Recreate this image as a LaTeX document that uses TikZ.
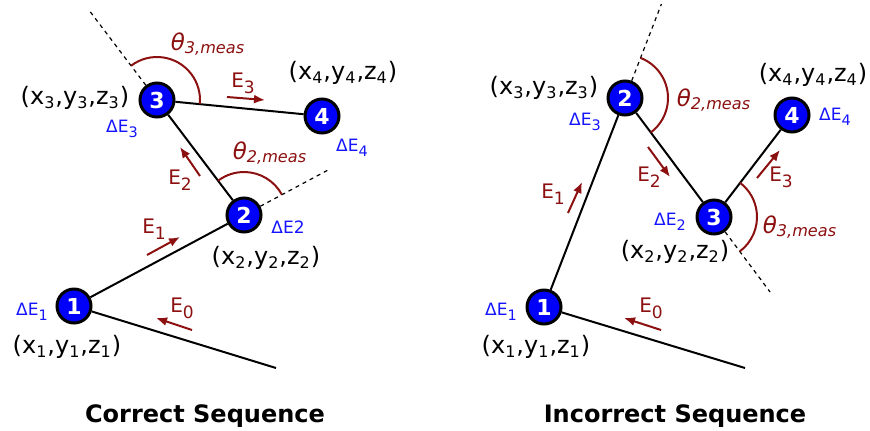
\documentclass[tikz,border=0pt]{standalone}
\usepackage{fontspec}
\usepackage{graphicx}
\setmainfont{DejaVu Sans}
\usetikzlibrary{arrows.meta,calc}
\definecolor{angred}{RGB}{140,16,16}
\definecolor{ptblue}{RGB}{0,0,250}
\definecolor{lblblue}{RGB}{20,20,255}
\newcommand\sbs[1]{\textsubscript{#1}}
\newcommand\lsb[1]{\raisebox{-0.3em}{\scalebox{0.85}{#1}}}

\begin{document}
\begin{tikzpicture}[x=0.5pt, y=0.5pt,
  pt/.style={circle, draw, line width=1.5pt, fill=ptblue, minimum size=17pt, inner sep=0pt,
    text=white, font=\fontsize{11}{12}\selectfont\bfseries},
  seg/.style={line width=1pt},
  ext/.style={line width=0.6pt, dash pattern=on 2pt off 2pt},
  ang/.style={angred, line width=1pt},
  earr/.style={angred, line width=1pt, -{Latex[length=5.5pt,width=4.5pt]}},
  elbl/.style={text=angred, font=\fontsize{10}{11}\selectfont, inner sep=0pt},
  tlbl/.style={text=angred, font=\fontsize{11.5}{12}\selectfont\itshape, inner sep=0pt},
  dlbl/.style={text=lblblue, font=\fontsize{8.5}{9}\selectfont, inner sep=0pt},
  xyz/.style={font=\fontsize{12}{14}\selectfont, inner sep=0pt},
  ttl/.style={font=\fontsize{12}{14}\selectfont\bfseries, anchor=base}]
\useasboundingbox (0,0) rectangle (870,430);

% correct sequence
\node[pt] (c1) at (74,124) {1};
\node[pt] (c2) at (244,215) {2};
\node[pt] (c3) at (157,330) {3};
\node[pt] (c4) at (322,314) {4};
\coordinate (c0) at (276,62);
\coordinate (cd3) at ($(c2)!1.77!(c3)$);
\coordinate (cd2) at ($(c1)!1.49!(c2)$);
\draw[seg] (c0) -- (c1);
\draw[seg] (c1) -- (c2);
\draw[seg] (c2) -- (c3);
\draw[seg] (c3) -- (c4);
\draw[ext] (c3) -- (cd3);
\draw[ext] (c2) -- (cd2);
\draw[ang] ([shift={(127.1:43)}]c3.center) arc[start angle=127.1, end angle=-5.5, radius=21.5pt];
\draw[ang] ([shift={(28.2:43)}]c2.center) arc[start angle=28.2, end angle=127.1, radius=21.5pt];
\node[tlbl] (ct3) at (208,386) {θ\sbs{3,meas}};
\node[tlbl] (ct2) at (270,277) {θ\sbs{2,meas}};
% energy flow
\coordinate (ce0a) at (192,100); \coordinate (ce0b) at (156,112);
\coordinate (ce1a) at (147,175); \coordinate (ce1b) at (180,193);
\coordinate (ce2a) at (200,254); \coordinate (ce2b) at (180,283);
\coordinate (ce3a) at (227,333); \coordinate (ce3b) at (265,330);
\draw[earr] (ce0a) -- (ce0b);
\draw[earr] (ce1a) -- (ce1b);
\draw[earr] (ce2a) -- (ce2b);
\draw[earr] (ce3a) -- (ce3b);
\node[elbl] (cl0) at (182,122) {E\lsb{0}};
\node[elbl] (cl1) at (154,201) {E\lsb{1}};
\node[elbl] (cl2) at (180,250) {E\lsb{2}};
\node[elbl] (cl3) at (243,347) {E\lsb{3}};
\node[dlbl] (cde1) at (32,118) {ΔE\lsb{1}};
\node[dlbl] (cde2) at (288,203) {ΔE2};
\node[dlbl] (cde3) at (122,301) {ΔE\lsb{3}};
\node[dlbl] (cde4) at (352,282) {ΔE\lsb{4}};
\node[xyz] (cx1) at (67,83) {(x\sbs{1},y\sbs{1},z\sbs{1})};
\node[xyz] (cx2) at (266,172) {(x\sbs{2},y\sbs{2},z\sbs{2})};
\node[xyz] (cx3) at (75,332) {(x\sbs{3},y\sbs{3},z\sbs{3})};
\node[xyz] (cx4) at (343,357) {(x\sbs{4},y\sbs{4},z\sbs{4})};
\node[ttl] (cttl) at (205,8) {Correct Sequence};

% incorrect sequence
\node[pt] (i1) at (544,123) {1};
\node[pt] (i2) at (625,332) {2};
\node[pt] (i3) at (714,213) {3};
\node[pt] (i4) at (792,315) {4};
\coordinate (i0) at (745,62);
\coordinate (id2) at ($(i1)!1.45!(i2)$);
\coordinate (id3) at ($(i2)!1.63!(i3)$);
\draw[seg] (i0) -- (i1);
\draw[seg] (i1) -- (i2);
\draw[seg] (i2) -- (i3);
\draw[seg] (i3) -- (i4);
\draw[ext] (i2) -- (id2);
\draw[ext] (i3) -- (id3);
\draw[ang] ([shift={(68.8:43)}]i2.center) arc[start angle=68.8, end angle=-53.2, radius=21.5pt];
\draw[ang] ([shift={(-53.2:43)}]i3.center) arc[start angle=-53.2, end angle=52.6, radius=21.5pt];
\node[tlbl] (it2) at (714,330) {θ\sbs{2,meas}};
\node[tlbl] (it3) at (800,203) {θ\sbs{3,meas}};
% energy flow
\coordinate (ie0a) at (661,100); \coordinate (ie0b) at (624,112);
\coordinate (ie1a) at (568,217); \coordinate (ie1b) at (582,248);
\coordinate (ie2a) at (648,283); \coordinate (ie2b) at (670,253);
\coordinate (ie3a) at (757,252); \coordinate (ie3b) at (780,280);
\draw[earr] (ie0a) -- (ie0b);
\draw[earr] (ie1a) -- (ie1b);
\draw[earr] (ie2a) -- (ie2b);
\draw[earr] (ie3a) -- (ie3b);
\node[elbl] (il0) at (651,122) {E\lsb{0}};
\node[elbl] (il1) at (553,236) {E\lsb{1}};
\node[elbl] (il2) at (649,253) {E\lsb{2}};
\node[elbl] (il3) at (781,253) {E\lsb{3}};
\node[dlbl] (ide1) at (501,118) {ΔE\lsb{1}};
\node[dlbl] (ide2) at (670,208) {ΔE\lsb{2}};
\node[dlbl] (ide3) at (585,308) {ΔE\lsb{3}};
\node[dlbl] (ide4) at (835,313) {ΔE\lsb{4}};
\node[xyz] (ix1) at (536,83) {(x\sbs{1},y\sbs{1},z\sbs{1})};
\node[xyz] (ix2) at (675,178) {(x\sbs{2},y\sbs{2},z\sbs{2})};
\node[xyz] (ix3) at (544,342) {(x\sbs{3},y\sbs{3},z\sbs{3})};
\node[xyz] (ix4) at (813,355) {(x\sbs{4},y\sbs{4},z\sbs{4})};
\node[ttl] (ittl) at (675,8) {Incorrect Sequence};
\end{tikzpicture}
\end{document}
